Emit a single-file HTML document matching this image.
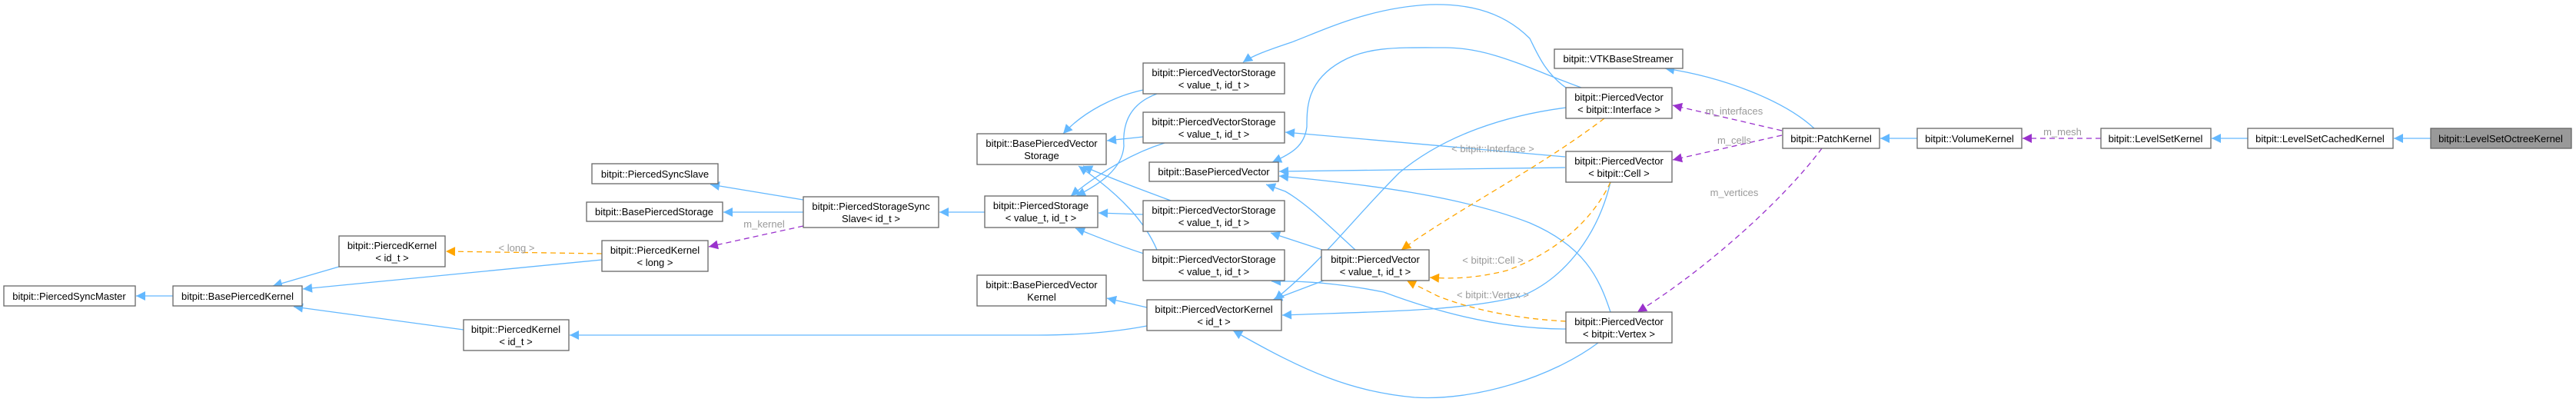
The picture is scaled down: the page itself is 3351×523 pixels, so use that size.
<!DOCTYPE html>
<html><head><meta charset="utf-8"><style>
html,body{margin:0;padding:0;background:#fff;}
svg{display:block;}
text{font-family:"Liberation Sans",Arial,sans-serif;font-size:13px;fill:#000;}
.lbl{fill:#9a9a9a;}
.n{fill:#fff;stroke:#666;stroke-width:1.3;}
.b{fill:none;stroke:#63b8ff;stroke-width:1.3;}
.o{fill:none;stroke:#ffa500;stroke-width:1.3;stroke-dasharray:7,5;}
.p{fill:none;stroke:#9a32cd;stroke-width:1.3;stroke-dasharray:7,5;}
</style></head><body>
<svg width="3351" height="523" viewBox="0 0 3351 523" xmlns="http://www.w3.org/2000/svg">
<defs>
<marker id="ab" viewBox="0 0 10 10" refX="10" refY="5" markerWidth="14" markerHeight="12" markerUnits="userSpaceOnUse" orient="auto"><path d="M0,0L10,5L0,10z" fill="#63b8ff"/></marker>
<marker id="ao" viewBox="0 0 10 10" refX="10" refY="5" markerWidth="14" markerHeight="12" markerUnits="userSpaceOnUse" orient="auto"><path d="M0,0L10,5L0,10z" fill="#ffa500"/></marker>
<marker id="ap" viewBox="0 0 10 10" refX="10" refY="5" markerWidth="14" markerHeight="12" markerUnits="userSpaceOnUse" orient="auto"><path d="M0,0L10,5L0,10z" fill="#9a32cd"/></marker>
</defs>

<!-- blue edges -->
<g marker-end="url(#ab)">
<path class="b" d="M225,385L177,385"/>
<path class="b" d="M441,347L355,372"/>
<path class="b" d="M783,338L394,376"/>
<path class="b" d="M603,429L382,399"/>
<path class="b" d="M1492,424C1450,432 1400,436 1350,436L741,436"/>
<path class="b" d="M1492,400L1440,388"/>
<path class="b" d="M1045,260L924,240"/>
<path class="b" d="M1045,276L941,276"/>
<path class="b" d="M1281,276L1222,276"/>
<path class="b" d="M1487,117C1450,125 1410,145 1383,174"/>
<path class="b" d="M1487,178L1440,183"/>
<path class="b" d="M1523,261C1480,245 1440,230 1409,216"/>
<path class="b" d="M1505,325C1490,290 1460,255 1403,216"/>
<path class="b" d="M1505,122C1470,135 1460,160 1462,190C1460,220 1430,240 1400,255"/>
<path class="b" d="M1515,186C1470,200 1430,225 1393,255"/>
<path class="b" d="M1487,279L1429,277"/>
<path class="b" d="M1488,330C1450,318 1420,305 1399,297"/>
<path class="b" d="M2057,114C1990,90 1940,62 1880,62C1820,62 1780,60 1745,80C1700,105 1700,140 1700,165C1697,190 1680,200 1655,211"/>
<path class="b" d="M2037,114C2010,95 2000,70 1990,50C1950,10 1900,5 1860,6C1780,10 1720,40 1680,55C1650,65 1630,72 1617,81"/>
<path class="b" d="M2036,204L1672,172"/>
<path class="b" d="M2036,218L1664,223"/>
<path class="b" d="M2095,406C2080,360 2060,320 1990,290C1900,255 1780,240 1664,229"/>
<path class="b" d="M1763,325C1730,295 1700,265 1672,249L1647,240"/>
<path class="b" d="M1720,325L1653,303"/>
<path class="b" d="M2037,428C1960,428 1880,410 1800,380C1750,370 1700,365 1654,366"/>
<path class="b" d="M1722,365L1656,390"/>
<path class="b" d="M2037,140C1960,150 1880,175 1820,225C1760,285 1720,340 1658,390"/>
<path class="b" d="M2095,237C2080,300 2040,360 1980,385C1900,405 1800,405 1668,410"/>
<path class="b" d="M2079,446C2020,490 1920,522 1840,517C1760,510 1700,485 1604,430"/>
<path class="b" d="M2360,167C2320,130 2240,100 2166,89"/>
<path class="b" d="M2494,180L2446,180"/>
<path class="b" d="M2924,180L2877,180"/>
<path class="b" d="M3162,180L3114,180"/>
</g>

<!-- orange edges -->
<g marker-end="url(#ao)">
<path class="o" d="M783,330L580,327"/>
<path class="o" d="M2087,154C2000,220 1900,270 1823,325"/>
<path class="o" d="M2095,237C2070,290 2020,330 1960,352C1920,362 1890,363 1860,361"/>
<path class="o" d="M2037,418C1980,415 1920,405 1870,385L1830,365"/>
</g>

<!-- purple edges -->
<g marker-end="url(#ap)">
<path class="p" d="M2318,170L2176,137"/>
<path class="p" d="M2318,176L2176,208"/>
<path class="p" d="M2370,193C2320,260 2220,350 2130,406"/>
<path class="p" d="M2733,180L2631,180"/>
<path class="p" d="M1045,294L922,321"/>
</g>

<!-- edge labels -->
<g class="lbl" text-anchor="middle">
<text class="lbl" x="672" y="327">&lt; long &gt;</text>
<text class="lbl" x="994" y="296">m_kernel</text>
<text class="lbl" x="1942" y="198">&lt; bitpit::Interface &gt;</text>
<text class="lbl" x="1942" y="343">&lt; bitpit::Cell &gt;</text>
<text class="lbl" x="1942" y="388">&lt; bitpit::Vertex &gt;</text>
<text class="lbl" x="2256" y="149">m_interfaces</text>
<text class="lbl" x="2256" y="187">m_cells</text>
<text class="lbl" x="2256" y="255">m_vertices</text>
<text class="lbl" x="2683" y="176">m_mesh</text>
</g>

<!-- nodes -->
<g text-anchor="middle">
<rect class="n" x="5" y="372" width="171" height="26"/><text x="90" y="390">bitpit::PiercedSyncMaster</text>
<rect class="n" x="225" y="372" width="168" height="26"/><text x="309" y="390">bitpit::BasePiercedKernel</text>
<rect class="n" x="441" y="307" width="138" height="40"/><text x="510" y="324">bitpit::PiercedKernel</text><text x="510" y="340">&lt; id_t &gt;</text>
<rect class="n" x="603" y="416" width="137" height="40"/><text x="671" y="433">bitpit::PiercedKernel</text><text x="671" y="449">&lt; id_t &gt;</text>
<rect class="n" x="783" y="313" width="138" height="40"/><text x="852" y="330">bitpit::PiercedKernel</text><text x="852" y="346">&lt; long &gt;</text>
<rect class="n" x="770" y="213" width="164" height="26"/><text x="852" y="231">bitpit::PiercedSyncSlave</text>
<rect class="n" x="763" y="263" width="177" height="25"/><text x="851" y="280">bitpit::BasePiercedStorage</text>
<rect class="n" x="1045" y="256" width="176" height="40"/><text x="1133" y="273">bitpit::PiercedStorageSync</text><text x="1133" y="289">Slave&lt; id_t &gt;</text>
<rect class="n" x="1281" y="255" width="147" height="41"/><text x="1354" y="272">bitpit::PiercedStorage</text><text x="1354" y="288">&lt; value_t, id_t &gt;</text>
<rect class="n" x="1271" y="174" width="168" height="40"/><text x="1355" y="191">bitpit::BasePiercedVector</text><text x="1355" y="207">Storage</text>
<rect class="n" x="1271" y="358" width="168" height="40"/><text x="1355" y="375">bitpit::BasePiercedVector</text><text x="1355" y="391">Kernel</text>
<rect class="n" x="1487" y="82" width="184" height="40"/><text x="1579" y="99">bitpit::PiercedVectorStorage</text><text x="1579" y="115">&lt; value_t, id_t &gt;</text>
<rect class="n" x="1487" y="146" width="184" height="40"/><text x="1579" y="163">bitpit::PiercedVectorStorage</text><text x="1579" y="179">&lt; value_t, id_t &gt;</text>
<rect class="n" x="1495" y="211" width="168" height="25"/><text x="1579" y="228">bitpit::BasePiercedVector</text>
<rect class="n" x="1487" y="261" width="184" height="40"/><text x="1579" y="278">bitpit::PiercedVectorStorage</text><text x="1579" y="294">&lt; value_t, id_t &gt;</text>
<rect class="n" x="1487" y="325" width="184" height="40"/><text x="1579" y="342">bitpit::PiercedVectorStorage</text><text x="1579" y="358">&lt; value_t, id_t &gt;</text>
<rect class="n" x="1492" y="390" width="175" height="40"/><text x="1579" y="407">bitpit::PiercedVectorKernel</text><text x="1579" y="423">&lt; id_t &gt;</text>
<rect class="n" x="1719" y="325" width="140" height="40"/><text x="1789" y="342">bitpit::PiercedVector</text><text x="1789" y="358">&lt; value_t, id_t &gt;</text>
<rect class="n" x="2022" y="64" width="167" height="25"/><text x="2105" y="81">bitpit::VTKBaseStreamer</text>
<rect class="n" x="2037" y="114" width="138" height="40"/><text x="2106" y="131">bitpit::PiercedVector</text><text x="2106" y="147">&lt; bitpit::Interface &gt;</text>
<rect class="n" x="2037" y="197" width="138" height="40"/><text x="2106" y="214">bitpit::PiercedVector</text><text x="2106" y="230">&lt; bitpit::Cell &gt;</text>
<rect class="n" x="2037" y="406" width="138" height="40"/><text x="2106" y="423">bitpit::PiercedVector</text><text x="2106" y="439">&lt; bitpit::Vertex &gt;</text>
<rect class="n" x="2319" y="167" width="126" height="26"/><text x="2382" y="185">bitpit::PatchKernel</text>
<rect class="n" x="2494" y="167" width="136" height="26"/><text x="2562" y="185">bitpit::VolumeKernel</text>
<rect class="n" x="2733" y="167" width="143" height="26"/><text x="2804" y="185">bitpit::LevelSetKernel</text>
<rect class="n" x="2924" y="167" width="189" height="26"/><text x="3018" y="185">bitpit::LevelSetCachedKernel</text>
<rect x="3162" y="167" width="183" height="26" fill="#999" stroke="#666" stroke-width="1.3"/><text x="3253" y="185">bitpit::LevelSetOctreeKernel</text>
</g>
</svg>
</body></html>
